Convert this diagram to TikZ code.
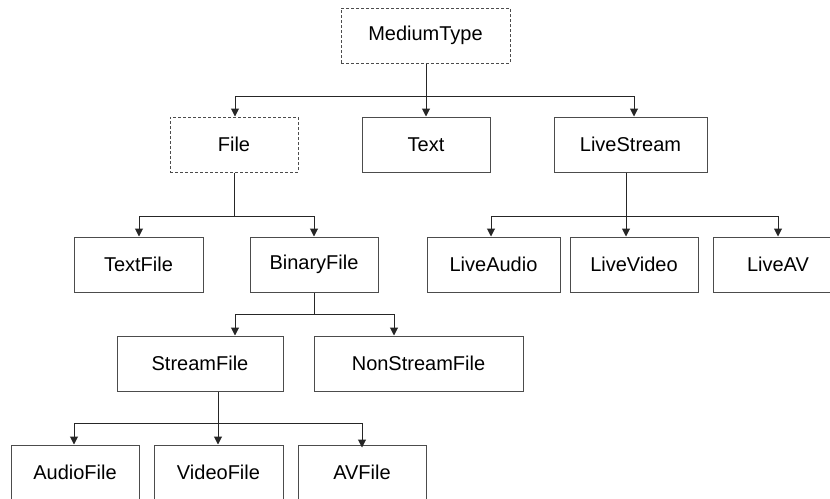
\documentclass[tikz,border=0pt]{standalone}
\usepackage{fontspec}
\setmainfont{Liberation Sans}
\usetikzlibrary{arrows.meta}

\tikzset{
    classbox/.style={rectangle, draw=black!70, line width=1pt, minimum height=55pt, inner sep=0pt, font=\fontsize{20}{24}\selectfont},
    abstractbox/.style={classbox, dash pattern=on 3pt off 2pt},
    link/.style={draw=black!85, line width=1pt},
    arrowlink/.style={link, -{Triangle[width=8pt,length=8pt]}}
}

\begin{document}
\begin{tikzpicture}[x=1pt, y=-1pt]
    \clip (0,0) rectangle (830,498);

    \node[abstractbox, minimum width=169pt] (mediumtype) at (425.5,35.5) {MediumType};

    \node[abstractbox, minimum width=128pt] (file) at (234,144.5) {File};
    \node[classbox, minimum width=128pt] (text) at (426,144.5) {Text};
    \node[classbox, minimum width=153pt] (livestream) at (630.5,144.5) {LiveStream};

    \node[classbox, minimum width=129pt] (textfile) at (138.5,264.5) {TextFile};
    \node[classbox, minimum width=128pt] (binaryfile) at (314,264.5) {BinaryFile};
    \node[classbox, minimum width=133pt] (liveaudio) at (493.5,264.5) {LiveAudio};
    \node[classbox, minimum width=128pt] (livevideo) at (634,264.5) {LiveVideo};
    \node[classbox, minimum width=130pt] (liveav) at (778,264.5) {LiveAV};

    \node[classbox, minimum width=166pt] (streamfile) at (200,363.5) {StreamFile};
    \node[classbox, minimum width=209pt] (nonstreamfile) at (418.5,363.5) {NonStreamFile};

    \node[classbox, minimum width=128pt] (audiofile) at (75,472.5) {AudioFile};
    \node[classbox, minimum width=129pt] (videofile) at (218.5,472.5) {VideoFile};
    \node[classbox, minimum width=128pt] (avfile) at (362,472.5) {AVFile};

    \coordinate (mfork) at (426,96);
    \coordinate (ffork) at (234,216);
    \coordinate (lfork) at (626,216);
    \coordinate (bfork) at (314,314);
    \coordinate (sfork) at (218,423);

    \draw[arrowlink] (mfork |- mediumtype.south) -- (mfork |- text.north);
    \draw[arrowlink] (mfork) -| ([xshift=1pt]file.north);
    \draw[arrowlink] (mfork) -| ([xshift=3.5pt]livestream.north);

    \draw[link] (ffork |- file.south) -- (ffork);
    \draw[arrowlink] (ffork) -| ([xshift=0.5pt]textfile.north);
    \draw[arrowlink] (ffork) -| (binaryfile.north);

    \draw[arrowlink] (lfork |- livestream.south) -- (lfork |- livevideo.north);
    \draw[arrowlink] (lfork) -| ([xshift=-2.5pt]liveaudio.north);
    \draw[arrowlink] (lfork) -| (liveav.north);

    \draw[link] (bfork |- binaryfile.south) -- (bfork);
    \draw[arrowlink] (bfork) -| ([xshift=35pt]streamfile.north);
    \draw[arrowlink] (bfork) -| ([xshift=-24.5pt]nonstreamfile.north);

    \draw[link] (sfork |- streamfile.south) -- (sfork);
    \draw[arrowlink] (sfork) -| ([xshift=-1pt]audiofile.north);
    \draw[arrowlink] (sfork) -- (sfork |- videofile.north);
    \draw[arrowlink] (sfork) -| ([yshift=-3pt]avfile.north);
\end{tikzpicture}
\end{document}
